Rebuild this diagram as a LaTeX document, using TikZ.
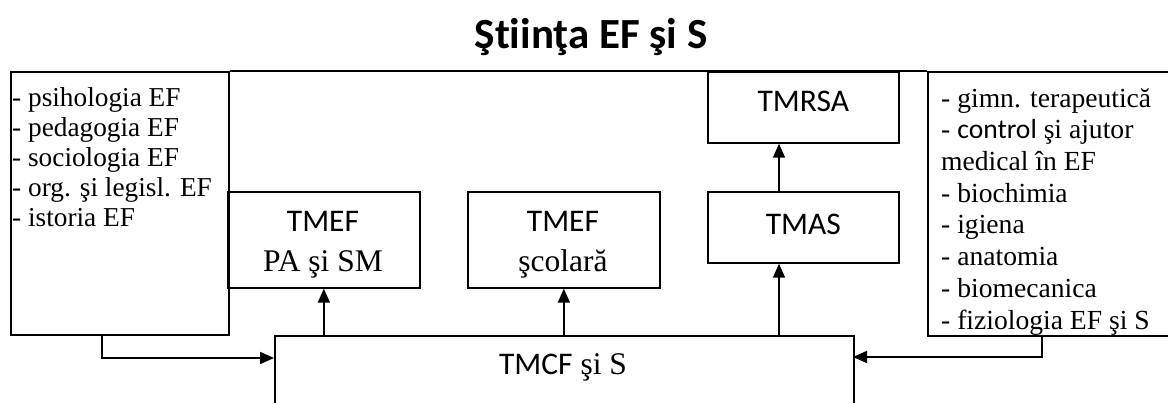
\documentclass[tikz,border=0pt]{standalone}
\usepackage{fontspec}
\setmainfont{Liberation Serif}
\setsansfont{Carlito}[Ligatures={NoCommon,NoRequired,NoContextual}]
\usetikzlibrary{arrows.meta,calc}
\tikzset{
  box/.style={draw, line width=1.7pt, inner sep=0pt, anchor=north west},
  arr/.style={line width=1.7pt, -{Triangle[length=14pt,width=12pt]}},
  lbl/.style={inner sep=0pt, align=center, font=\fontsize{31.5}{40}\selectfont},
  lst/.style={inner sep=0pt, align=left, anchor=north west},
}
\begin{document}
\begin{tikzpicture}[x=1pt,y=-1pt]
\clip (0,0) rectangle (1168,403);
% title
\node[inner sep=0pt, anchor=base, font=\sffamily\bfseries\fontsize{43}{48}\selectfont] (title) at (591,49) {Ştiinţa EF şi S};
% boxes
\node[box, minimum width=218pt, minimum height=263pt] (lbox) at (10,71) {};
\node[box, minimum width=241pt, minimum height=264pt] (rbox) at (927,71) {};
\node[box, minimum width=192pt, minimum height=96pt] (tmefpa) at (227,191) {};
\node[box, minimum width=192pt, minimum height=96pt] (tmefsc) at (467,191) {};
\node[box, minimum width=191pt, minimum height=71pt] (tmas) at (707,191) {};
\node[box, minimum width=191pt, minimum height=71pt] (tmrsa) at (707,71) {};
\node[box, minimum width=579pt, minimum height=100pt] (tmcf) at (274,335) {};
% top line
\draw[line width=1.7pt] (lbox.north east) -- (rbox.north west);
% labels
\node[lbl, anchor=base] (tmefpaT) at (323,272) {{\sffamily\fontsize{31.5}{40}\selectfont TMEF}\\PA şi SM};
\node[lbl, anchor=base] (tmefscT) at (563,272) {{\sffamily\fontsize{31.5}{40}\selectfont TMEF}\\şcolară};
\node[lbl, anchor=base, font=\sffamily\fontsize{31.5}{40}\selectfont] (tmasT) at (tmas.center |- 0,235) {TMAS};
\node[lbl, anchor=base, font=\sffamily\fontsize{31.5}{40}\selectfont] (tmrsaT) at (tmrsa.center |- 0,112) {TMRSA};
\node[lbl, anchor=base] (tmcfT) at (563,375) {{\sffamily\fontsize{31.5}{40}\selectfont TMCF} şi S};
% lists
\node[lst, font=\fontsize{27.3}{30}\selectfont] (ltext) at (12,85) {\strut- psihologia EF\\- pedagogia EF\\- sociologia EF\\- org. şi legisl. EF\\- istoria EF};
\node[lst, font=\fontsize{27.6}{31.7}\selectfont] (rtext) at (941,84.8) {\strut- gimn. terapeutică\\- {\sffamily control} şi ajutor\\medical în EF\\- biochimia\\- igiena\\- anatomia\\- biomecanica\\- fiziologia EF şi S};
% connectors
\coordinate (a1) at (tmcf.north -| tmefpa.south);
\coordinate (a2) at (tmcf.north -| tmefsc.south);
\coordinate (a3) at (779,335);
\coordinate (a4) at (779,191);
\draw[arr] (a1) -- (tmefpa.south);
\draw[arr] (a2) -- (tmefsc.south);
\draw[arr] (a3) -- (a3 |- tmas.south);
\draw[arr] (a4) -- (a4 |- tmrsa.south);
\coordinate (ls) at (102,334);
\coordinate (le) at (274,358);
\coordinate (rs) at (1042,335);
\coordinate (re) at (853,357);
\draw[arr] (ls) |- (le);
\draw[arr] (rs) |- (re);
\end{tikzpicture}
\end{document}
